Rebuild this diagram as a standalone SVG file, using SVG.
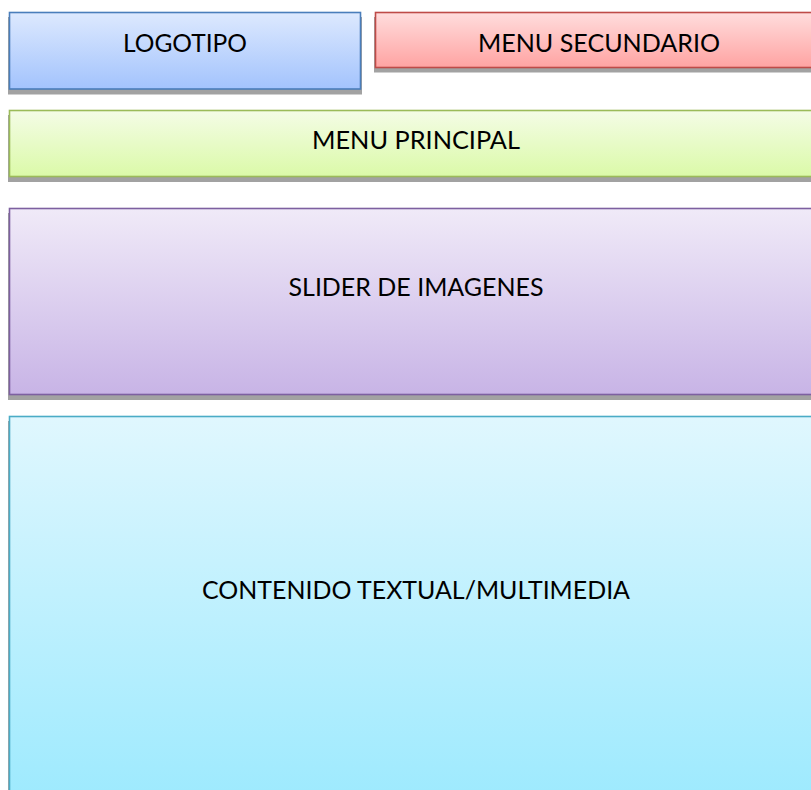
<svg xmlns="http://www.w3.org/2000/svg" width="811" height="790" viewBox="0 0 811 790">
<defs>
<linearGradient id="gBlue" x1="0" y1="0" x2="0" y2="1"><stop offset="0" stop-color="#dde9fe"/><stop offset="1" stop-color="#a3c3fd"/></linearGradient>
<linearGradient id="gRed" x1="0" y1="0" x2="0" y2="1"><stop offset="0" stop-color="#ffdddd"/><stop offset="1" stop-color="#ffa3a2"/></linearGradient>
<linearGradient id="gGreen" x1="0" y1="0" x2="0" y2="1"><stop offset="0" stop-color="#f4fce6"/><stop offset="1" stop-color="#dbfaa8"/></linearGradient>
<linearGradient id="gPurple" x1="0" y1="0" x2="0" y2="1"><stop offset="0" stop-color="#f0eaf8"/><stop offset="1" stop-color="#c8b4e6"/></linearGradient>
<linearGradient id="gCyan" x1="0" y1="0" x2="0" y2="1"><stop offset="0" stop-color="#e0f7fe"/><stop offset="1" stop-color="#9eeafe"/></linearGradient>
</defs>
<style>
.shadow{fill:#a2a2a2}
.box{stroke-width:1.6}
.label{font-family:Lato,"Open Sans","Liberation Sans",sans-serif;font-size:25.5px;fill:#000;text-anchor:middle}
</style>
<rect width="811" height="790" fill="#ffffff"/>
<g id="logotipo">
<rect class="shadow" x="8" y="17" width="354" height="77.5"/>
<rect class="box" x="9.5" y="12.5" width="351" height="76.5" fill="url(#gBlue)" stroke="#4a7ebb"/>
<text class="label" x="185" y="51.5" textLength="124" lengthAdjust="spacingAndGlyphs">LOGOTIPO</text>
</g>
<g id="menu-secundario">
<rect class="shadow" x="374" y="17" width="450" height="55.5"/>
<rect class="box" x="375.5" y="12.5" width="447" height="55" fill="url(#gRed)" stroke="#be4b48"/>
<text class="label" x="599" y="51.5" textLength="242" lengthAdjust="spacingAndGlyphs">MENU SECUNDARIO</text>
</g>
<g id="menu-principal">
<rect class="shadow" x="8" y="115" width="816" height="67"/>
<rect class="box" x="9.5" y="110.5" width="813" height="66" fill="url(#gGreen)" stroke="#9bbb59"/>
<text class="label" x="416" y="149" textLength="208" lengthAdjust="spacingAndGlyphs">MENU PRINCIPAL</text>
</g>
<g id="slider">
<rect class="shadow" x="8" y="213" width="816" height="187"/>
<rect class="box" x="9.5" y="208.5" width="813" height="186" fill="url(#gPurple)" stroke="#7d60a0"/>
<text class="label" x="416" y="295.5" textLength="255" lengthAdjust="spacingAndGlyphs">SLIDER DE IMAGENES</text>
</g>
<g id="contenido">
<rect class="shadow" x="8" y="421" width="816" height="380"/>
<rect class="box" x="9.5" y="416.5" width="813" height="380" fill="url(#gCyan)" stroke="#4bacc6"/>
<text class="label" x="416" y="599" textLength="428" lengthAdjust="spacingAndGlyphs">CONTENIDO TEXTUAL/MULTIMEDIA</text>
</g>
<g id="connectors"/>
</svg>
